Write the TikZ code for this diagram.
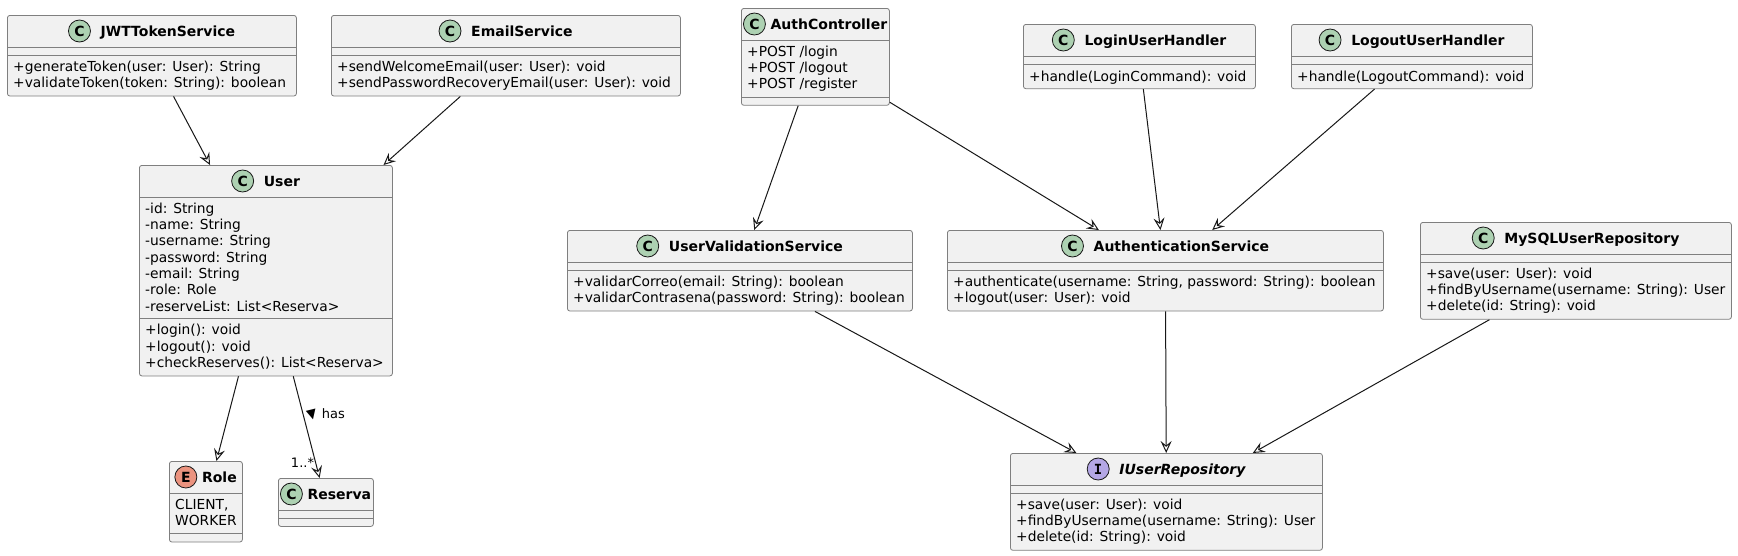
\documentclass[tikz,border=0pt]{standalone}
\usepackage{fontspec}
\setmainfont{DejaVu Sans}[BoldFont={DejaVu Sans Bold},ItalicFont={DejaVu Sans Oblique},BoldItalicFont={DejaVu Sans Bold Oblique}]
\setmonofont{DejaVu Sans Mono}
\usetikzlibrary{arrows.meta,positioning,calc}
\definecolor{edge}{HTML}{181818}
\definecolor{rim}{HTML}{7F7F7F}
\definecolor{bg}{HTML}{F1F1F1}
\definecolor{cico}{HTML}{ADD1B2}
\definecolor{eico}{HTML}{EB937F}
\definecolor{iico}{HTML}{B4A7E5}
\tikzset{
  >={Stealth[open,length=12pt,width=11pt,inset=4.5pt,line width=1pt]},
  box/.style={draw=rim,fill=bg,line width=0.8pt,rounded corners=2.5pt,anchor=north west,inner sep=0pt},
  divider/.style={draw=rim,line width=0.8pt},
  ttl/.style={font=\fontsize{14}{16}\selectfont\bfseries,inner sep=0pt,anchor=base},
  ico/.style={circle,draw=edge,line width=0.8pt,minimum size=22pt,inner sep=0pt,font=\fontsize{14}{16}\selectfont\bfseries},
  mem/.style={font=\fontsize{13.8}{16.3}\selectfont,align=left,inner sep=0pt,anchor=north west,execute at begin node=\strut},
  arr/.style={->,draw=edge,line width=1pt},
  lab/.style={font=\fontsize{13}{15}\selectfont,inner sep=1pt},
}
\begin{document}
\begin{tikzpicture}[x=1pt,y=-1pt]
\useasboundingbox[fill=white] (0,0) rectangle (1738,555);
% class boxes
\node[box,minimum width=289pt,minimum height=80.6pt] (jwt) at (7,15) {};
\node[box,minimum width=349pt,minimum height=80.6pt] (email) at (331,15) {};
\node[box,minimum width=148pt,minimum height=96.9pt] (ctrl) at (741,8) {};
\node[box,minimum width=232pt,minimum height=64.3pt] (login) at (1023,24) {};
\node[box,minimum width=241pt,minimum height=64.3pt] (logout) at (1291,24) {};
\node[box,minimum width=253pt,minimum height=210.5pt] (user) at (139,165) {};
\node[box,minimum width=73pt,minimum height=80.6pt] (role) at (169,461) {};
\node[box,minimum width=95pt,minimum height=48pt] (res) at (278,478) {};
\node[box,minimum width=345pt,minimum height=80.6pt] (uvs) at (567,230) {};
\node[box,minimum width=436pt,minimum height=80.6pt] (auth) at (947,230) {};
\node[box,minimum width=311pt,minimum height=96.9pt] (mysql) at (1420,222) {};
\node[box,minimum width=312pt,minimum height=96.9pt] (repo) at (1010,453) {};
\foreach \cn/\cs in {jwt/40pt,email/40pt,ctrl/88.9pt,login/40pt,logout/40pt,user/153.6pt,
    role/72.6pt,res/40pt,uvs/40pt,auth/40pt,mysql/40pt,repo/40pt}
  \draw[divider] ([yshift=-32pt]\cn.north west) -- ([yshift=-32pt]\cn.north east)
    ([yshift=-\cs]\cn.north west) -- ([yshift=-\cs]\cn.north east);
% headers
\foreach \cn/\ct/\cl/\cf/\cx/\ch in {jwt/JWTTokenService/C/cico/16pt/21pt,
    email/EmailService/C/cico/16pt/21pt,ctrl/AuthController/C/cico/13.5pt/16pt,
    login/LoginUserHandler/C/cico/16pt/21pt,logout/LogoutUserHandler/C/cico/16pt/21pt,
    user/User/C/cico/16pt/21pt,role/Role/E/eico/13.5pt/16pt,res/Reserva/C/cico/13.5pt/16pt,
    uvs/UserValidationService/C/cico/16pt/21pt,auth/AuthenticationService/C/cico/16pt/21pt,
    mysql/MySQLUserRepository/C/cico/16pt/21pt,repo/\itshape IUserRepository/{\ttfamily I}/iico/16pt/21pt} {
  \node[ttl] (\cn-t) at ([xshift=\cx,yshift=-21pt]\cn.north) {\ct};
  \node[ico,fill=\cf] (\cn-i) at ([xshift=-\ch,yshift=5pt]\cn-t.base west) {\cl};
}
% members
\node[mem] (jwt-m) at ([shift={(6pt,-45.6pt)}]jwt.north west) {+generateToken(user: User): String\\+validateToken(token: String): boolean};
\node[mem] (email-m) at ([shift={(6pt,-45.6pt)}]email.north west) {+sendWelcomeEmail(user: User): void\\+sendPasswordRecoveryEmail(user: User): void};
\node[mem] (ctrl-f) at ([shift={(6pt,-37.6pt)}]ctrl.north west) {+POST /login\\+POST /logout\\+POST /register};
\node[mem] (login-m) at ([shift={(6pt,-45.6pt)}]login.north west) {+handle(LoginCommand): void};
\node[mem] (logout-m) at ([shift={(6pt,-45.6pt)}]logout.north west) {+handle(LogoutCommand): void};
\node[mem] (user-f) at ([shift={(6pt,-37.6pt)}]user.north west) {-id: String\\-name: String\\-username: String\\-password: String\\-email: String\\-role: Role\\-reserveList: List<Reserva>};
\node[mem] (user-m) at ([shift={(6pt,-159.2pt)}]user.north west) {+login(): void\\+logout(): void\\+checkReserves(): List<Reserva>};
\node[mem] (role-f) at ([shift={(6pt,-37.6pt)}]role.north west) {CLIENT,\\WORKER};
\node[mem] (uvs-m) at ([shift={(6pt,-45.6pt)}]uvs.north west) {+validarCorreo(email: String): boolean\\+validarContrasena(password: String): boolean};
\node[mem] (auth-m) at ([shift={(6pt,-45.6pt)}]auth.north west) {+authenticate(username: String, password: String): boolean\\+logout(user: User): void};
\node[mem] (mysql-m) at ([shift={(6pt,-45.6pt)}]mysql.north west) {+save(user: User): void\\+findByUsername(username: String): User\\+delete(id: String): void};
\node[mem] (repo-m) at ([shift={(6pt,-45.6pt)}]repo.north west) {+save(user: User): void\\+findByUsername(username: String): User\\+delete(id: String): void};
% links
\foreach \u/\v in {jwt/user,email/user,user/role,ctrl/uvs,ctrl/auth,login/auth,logout/auth,uvs/repo,auth/repo,mysql/repo}
  \draw[arr] (\u)--(\v);
\draw[arr] (user) -- (res)
  node[lab,pos=0.38,anchor=west,xshift=1pt] (has) {\rotatebox[origin=c]{14}{\fontsize{13}{13}\selectfont ▼}\hspace{4pt}has}
  node[lab,pos=0.845,anchor=east] (mult) {1..*};
\end{tikzpicture}
\end{document}
